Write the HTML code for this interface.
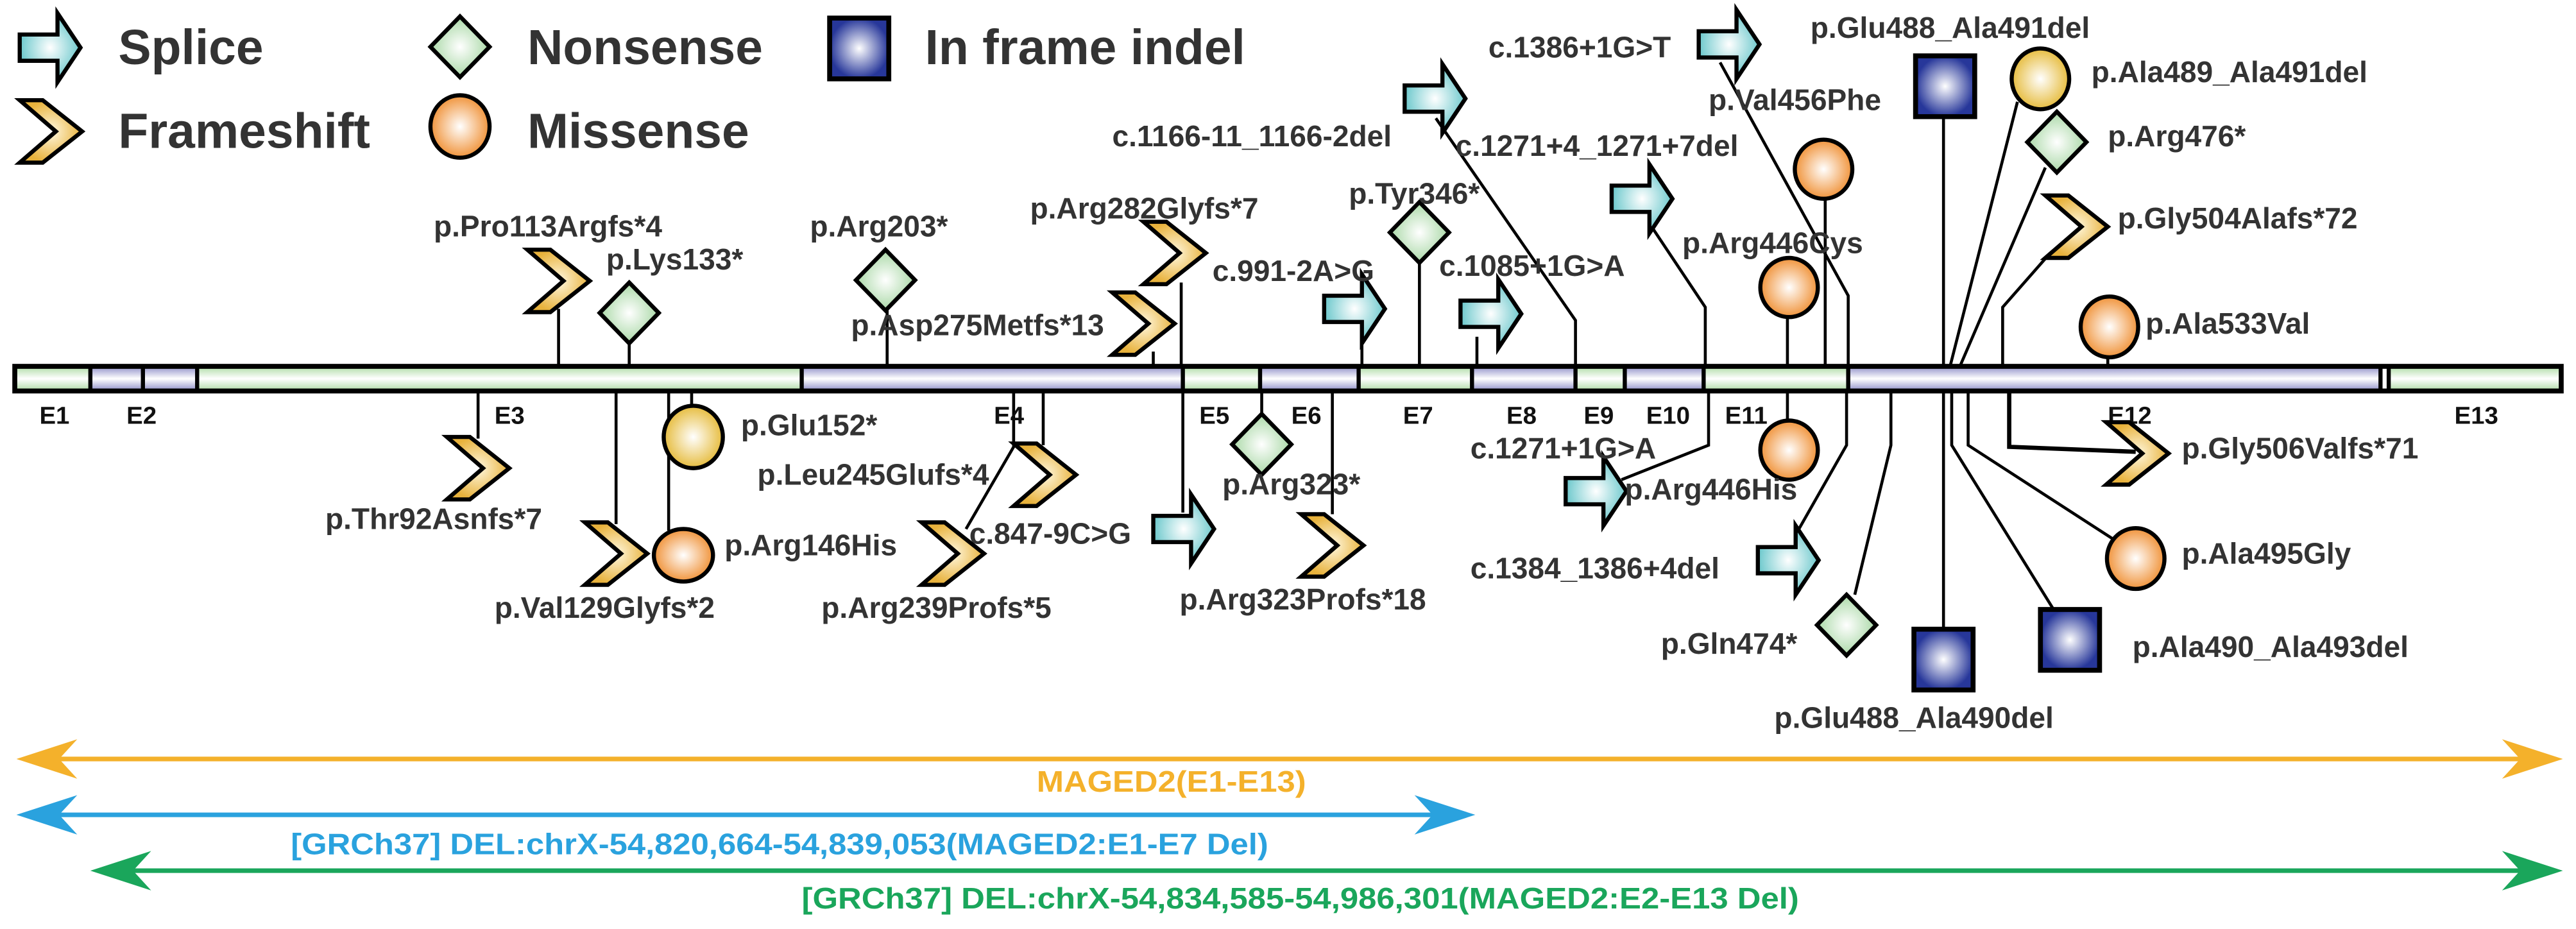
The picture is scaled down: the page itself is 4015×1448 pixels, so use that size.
<!DOCTYPE html>
<html><head><meta charset="utf-8"><style>
html,body{margin:0;padding:0;background:#fff;}
svg{display:block;}
text{font-family:"Liberation Sans",Arial,sans-serif;font-weight:bold;}
</style></head><body>
<svg width="4015" height="1448" viewBox="0 0 1568 565.5" preserveAspectRatio="none" xmlns="http://www.w3.org/2000/svg">
<defs>
<radialGradient id="gS"><stop offset="0" stop-color="#ffffff"/><stop offset="1" stop-color="#6cc8cc"/></radialGradient>
<radialGradient id="gN"><stop offset="0" stop-color="#ffffff"/><stop offset="1" stop-color="#a9d8a6"/></radialGradient>
<radialGradient id="gF"><stop offset="0" stop-color="#fff8e0"/><stop offset="1" stop-color="#e8b23c"/></radialGradient>
<radialGradient id="gM"><stop offset="0" stop-color="#ffffff"/><stop offset="1" stop-color="#f0933a"/></radialGradient>
<radialGradient id="gY"><stop offset="0" stop-color="#ffffff"/><stop offset="1" stop-color="#e6bc3e"/></radialGradient>
<radialGradient id="gB"><stop offset="0" stop-color="#ffffff"/><stop offset="1" stop-color="#27379a"/></radialGradient>
<linearGradient id="bG" x1="0" y1="0" x2="0" y2="1"><stop offset="0" stop-color="#b8e0b0"/><stop offset="0.5" stop-color="#ffffff"/><stop offset="1" stop-color="#b8e0b0"/></linearGradient>
<linearGradient id="bP" x1="0" y1="0" x2="0" y2="1"><stop offset="0" stop-color="#9c9ccf"/><stop offset="0.5" stop-color="#ffffff"/><stop offset="1" stop-color="#9c9ccf"/></linearGradient>
<g id="spl"><polygon points="0,13 23,13 23,0 37,21 23,42 23,29 0,29" fill="url(#gS)" stroke="#000" stroke-width="2.5" stroke-linejoin="miter"/></g>
<g id="chv"><polygon points="0,0 14,0 38,19 14,38 0,38 22,19" fill="url(#gF)" stroke="#000" stroke-width="2.5"/></g>
<g id="dia"><polygon points="18,0 36,18.5 18,37 0,18.5" fill="url(#gN)" stroke="#000" stroke-width="2.5"/></g>
<g id="sq"><rect x="0" y="0" width="36" height="37" fill="url(#gB)" stroke="#000" stroke-width="3"/></g>
</defs>

<!-- Legend -->
<use href="#spl" x="12" y="8"/>
<text x="72" y="39" font-size="30" fill="#333">Splice</text>
<use href="#dia" x="262" y="10"/>
<text x="321" y="39" font-size="30" fill="#333">Nonsense</text>
<use href="#sq" x="505" y="11"/>
<text x="563" y="39" font-size="30" fill="#333">In frame indel</text>
<use href="#chv" x="12" y="61"/>
<text x="72" y="90" font-size="30" fill="#333">Frameshift</text>
<ellipse cx="280" cy="77" rx="18" ry="19" fill="url(#gM)" stroke="#000" stroke-width="2.5"/>
<text x="321" y="90" font-size="30" fill="#333">Missense</text>

<!-- connector lines -->
<g stroke="#000" stroke-width="1.8" fill="none">
<line x1="340" y1="188" x2="340" y2="223"/>
<line x1="383" y1="208" x2="383" y2="223"/>
<line x1="540" y1="188" x2="540" y2="223"/>
<line x1="719" y1="172" x2="719" y2="223"/>
<line x1="702" y1="214" x2="702" y2="223"/>
<polyline points="874,72 959,195 959,223"/>
<line x1="829" y1="205" x2="829" y2="223"/>
<line x1="864" y1="158" x2="864" y2="223"/>
<line x1="899" y1="205" x2="899" y2="223"/>
<polyline points="1004,136 1038,187 1038,223"/>
<line x1="1111" y1="120" x2="1111" y2="223"/>
<line x1="1088" y1="192" x2="1088" y2="223"/>
<polyline points="1047,38 1125,180 1125,223"/>
<line x1="1183" y1="70" x2="1183" y2="223"/>
<line x1="1228" y1="62" x2="1187" y2="223"/>
<line x1="1245" y1="102" x2="1193" y2="223"/>
<polyline points="1248,154 1219,187 1219,223"/>
<line x1="1283" y1="216" x2="1283" y2="223"/>

<line x1="291" y1="238" x2="291" y2="267"/>
<line x1="375" y1="238" x2="375" y2="319"/>
<line x1="407" y1="238" x2="407" y2="323"/>
<line x1="421" y1="238" x2="421" y2="248"/>
<line x1="635" y1="238" x2="635" y2="271"/>
<polyline points="617,238 617,272 588,322"/>
<line x1="720" y1="238" x2="720" y2="312"/>
<line x1="768" y1="238" x2="768" y2="252"/>
<line x1="811" y1="238" x2="811" y2="313"/>
<polyline points="1040,238 1040,271 987,292"/>
<line x1="1088" y1="238" x2="1088" y2="256"/>
<polyline points="1124,238 1124,271 1095,322"/>
<polyline points="1151,238 1151,271 1129,362"/>
<line x1="1183" y1="238" x2="1183" y2="382"/>
<polyline points="1188,238 1188,271 1250,371"/>
<polyline points="1198,238 1198,271 1286,328"/>
<polyline points="1223,238 1223,272 1300,275" stroke-width="2.6"/>
</g>

<!-- gene bar -->
<g>
<rect x="9" y="224" width="46" height="13" fill="url(#bG)"/>
<rect x="55" y="224" width="32" height="13" fill="url(#bP)"/>
<rect x="87" y="224" width="33" height="13" fill="url(#bP)"/>
<rect x="120" y="224" width="368" height="13" fill="url(#bG)"/>
<rect x="488" y="224" width="232" height="13" fill="url(#bP)"/>
<rect x="720" y="224" width="47" height="13" fill="url(#bG)"/>
<rect x="767" y="224" width="60" height="13" fill="url(#bP)"/>
<rect x="827" y="224" width="69" height="13" fill="url(#bG)"/>
<rect x="896" y="224" width="63" height="13" fill="url(#bP)"/>
<rect x="959" y="224" width="30" height="13" fill="url(#bG)"/>
<rect x="989" y="224" width="48" height="13" fill="url(#bP)"/>
<rect x="1037" y="224" width="88" height="13" fill="url(#bG)"/>
<rect x="1125" y="224" width="324" height="13" fill="url(#bP)"/>
<rect x="1454" y="224" width="105" height="13" fill="url(#bG)"/>
<rect x="9" y="223" width="1550" height="15" fill="none" stroke="#000" stroke-width="3"/>
<g stroke="#000" stroke-width="2.5">
<line x1="55" y1="223" x2="55" y2="238"/><line x1="87" y1="223" x2="87" y2="238"/>
<line x1="120" y1="223" x2="120" y2="238"/><line x1="488" y1="223" x2="488" y2="238"/>
<line x1="720" y1="223" x2="720" y2="238"/><line x1="767" y1="223" x2="767" y2="238"/>
<line x1="827" y1="223" x2="827" y2="238"/><line x1="896" y1="223" x2="896" y2="238"/>
<line x1="959" y1="223" x2="959" y2="238"/><line x1="989" y1="223" x2="989" y2="238"/>
<line x1="1037" y1="223" x2="1037" y2="238"/><line x1="1125" y1="223" x2="1125" y2="238"/>
<line x1="1449" y1="223" x2="1449" y2="238"/><line x1="1454" y1="223" x2="1454" y2="238"/>
</g>
</g>
<g font-size="15" fill="#111">
<text x="24" y="258">E1</text><text x="77" y="258">E2</text><text x="301" y="258">E3</text>
<text x="605" y="258">E4</text><text x="730" y="258">E5</text><text x="786" y="258">E6</text>
<text x="854" y="258">E7</text><text x="917" y="258">E8</text><text x="964" y="258">E9</text>
<text x="1002" y="258">E10</text><text x="1050" y="258">E11</text><text x="1283" y="258">E12</text>
<text x="1494" y="258">E13</text>
</g>

<!-- upper shapes -->
<use href="#chv" x="321" y="152"/>
<use href="#dia" x="365" y="172"/>
<use href="#dia" x="521" y="152"/>
<use href="#chv" x="696" y="135"/>
<use href="#chv" x="677" y="178"/>
<use href="#spl" x="855" y="39"/>
<use href="#spl" x="806" y="167"/>
<use href="#dia" x="846" y="123"/>
<use href="#spl" x="889" y="170"/>
<use href="#spl" x="981" y="100"/>
<ellipse cx="1110" cy="103" rx="17.5" ry="18" fill="url(#gM)" stroke="#000" stroke-width="2.5"/>
<ellipse cx="1089" cy="175" rx="17.5" ry="18" fill="url(#gM)" stroke="#000" stroke-width="2.5"/>
<use href="#spl" x="1034" y="6"/>
<use href="#sq" x="1166" y="34"/>
<ellipse cx="1242" cy="48" rx="17.5" ry="18.5" fill="url(#gY)" stroke="#000" stroke-width="2.5"/>
<use href="#dia" x="1234" y="68"/>
<use href="#chv" x="1245" y="119"/>
<ellipse cx="1284" cy="199" rx="17.5" ry="18.5" fill="url(#gM)" stroke="#000" stroke-width="2.5"/>

<!-- lower shapes -->
<use href="#chv" x="272" y="266"/>
<use href="#chv" x="356" y="318"/>
<ellipse cx="416" cy="338" rx="18" ry="16" fill="url(#gM)" stroke="#000" stroke-width="2.5"/>
<ellipse cx="422" cy="266" rx="18" ry="19" fill="url(#gY)" stroke="#000" stroke-width="2.5"/>
<use href="#chv" x="617" y="270"/>
<use href="#chv" x="561" y="318"/>
<use href="#spl" x="702" y="301"/>
<use href="#dia" x="750" y="252"/>
<use href="#chv" x="792" y="313"/>
<use href="#spl" x="953" y="278"/>
<ellipse cx="1089" cy="274" rx="17.5" ry="18" fill="url(#gM)" stroke="#000" stroke-width="2.5"/>
<use href="#spl" x="1070" y="320"/>
<use href="#dia" x="1106" y="362"/>
<use href="#sq" x="1165" y="383"/>
<use href="#sq" x="1242" y="371"/>
<ellipse cx="1300" cy="340" rx="17.5" ry="18.5" fill="url(#gM)" stroke="#000" stroke-width="2.5"/>
<use href="#chv" x="1282" y="257"/>

<!-- labels -->
<g font-size="18" fill="#333">
<text x="264" y="144">p.Pro113Argfs*4</text>
<text x="369" y="164">p.Lys133*</text>
<text x="493" y="144">p.Arg203*</text>
<text x="627" y="133">p.Arg282Glyfs*7</text>
<text x="518" y="204">p.Asp275Metfs*13</text>
<text x="677" y="89">c.1166-11_1166-2del</text>
<text x="738" y="171">c.991-2A&gt;G</text>
<text x="821" y="124">p.Tyr346*</text>
<text x="876" y="168">c.1085+1G&gt;A</text>
<text x="886" y="95">c.1271+4_1271+7del</text>
<text x="1040" y="67">p.Val456Phe</text>
<text x="1024" y="154">p.Arg446Cys</text>
<text x="906" y="35">c.1386+1G&gt;T</text>
<text x="1102" y="23">p.Glu488_Ala491del</text>
<text x="1273" y="50">p.Ala489_Ala491del</text>
<text x="1283" y="89">p.Arg476*</text>
<text x="1289" y="139">p.Gly504Alafs*72</text>
<text x="1306" y="203">p.Ala533Val</text>

<text x="198" y="322">p.Thr92Asnfs*7</text>
<text x="301" y="376">p.Val129Glyfs*2</text>
<text x="441" y="338">p.Arg146His</text>
<text x="451" y="265">p.Glu152*</text>
<text x="461" y="295">p.Leu245Glufs*4</text>
<text x="500" y="376">p.Arg239Profs*5</text>
<text x="590" y="331">c.847-9C&gt;G</text>
<text x="744" y="301">p.Arg323*</text>
<text x="718" y="371">p.Arg323Profs*18</text>
<text x="895" y="279">c.1271+1G&gt;A</text>
<text x="989" y="304">p.Arg446His</text>
<text x="895" y="352">c.1384_1386+4del</text>
<text x="1011" y="398">p.Gln474*</text>
<text x="1080" y="443">p.Glu488_Ala490del</text>
<text x="1298" y="400">p.Ala490_Ala493del</text>
<text x="1328" y="343">p.Ala495Gly</text>
<text x="1328" y="279">p.Gly506Valfs*71</text>
</g>

<!-- range arrows -->
<g stroke-width="2.8" fill="none">
<line x1="18" y1="462" x2="1552" y2="462" stroke="#f4b12b"/>
<line x1="18" y1="496" x2="890" y2="496" stroke="#2aa2de"/>
<line x1="63" y1="530" x2="1552" y2="530" stroke="#1aa65b"/>
</g>
<polygon points="10,462 47,450 36,462 47,474" fill="#f4b12b"/>
<polygon points="1560,462 1523,450 1534,462 1523,474" fill="#f4b12b"/>
<polygon points="10,496 47,484 36,496 47,508" fill="#2aa2de"/>
<polygon points="898,496 861,484 872,496 861,508" fill="#2aa2de"/>
<polygon points="55,530 92,518 81,530 92,542" fill="#1aa65b"/>
<polygon points="1560,530 1523,518 1534,530 1523,542" fill="#1aa65b"/>
<text x="631" y="482" font-size="18" fill="#f4b12b" textLength="164" lengthAdjust="spacingAndGlyphs">MAGED2(E1-E13)</text>
<text x="177" y="520" font-size="18" fill="#2aa2de" textLength="595" lengthAdjust="spacingAndGlyphs">[GRCh37] DEL:chrX-54,820,664-54,839,053(MAGED2:E1-E7 Del)</text>
<text x="488" y="553" font-size="18" fill="#1aa65b" textLength="607" lengthAdjust="spacingAndGlyphs">[GRCh37] DEL:chrX-54,834,585-54,986,301(MAGED2:E2-E13 Del)</text>
</svg>
</body></html>
